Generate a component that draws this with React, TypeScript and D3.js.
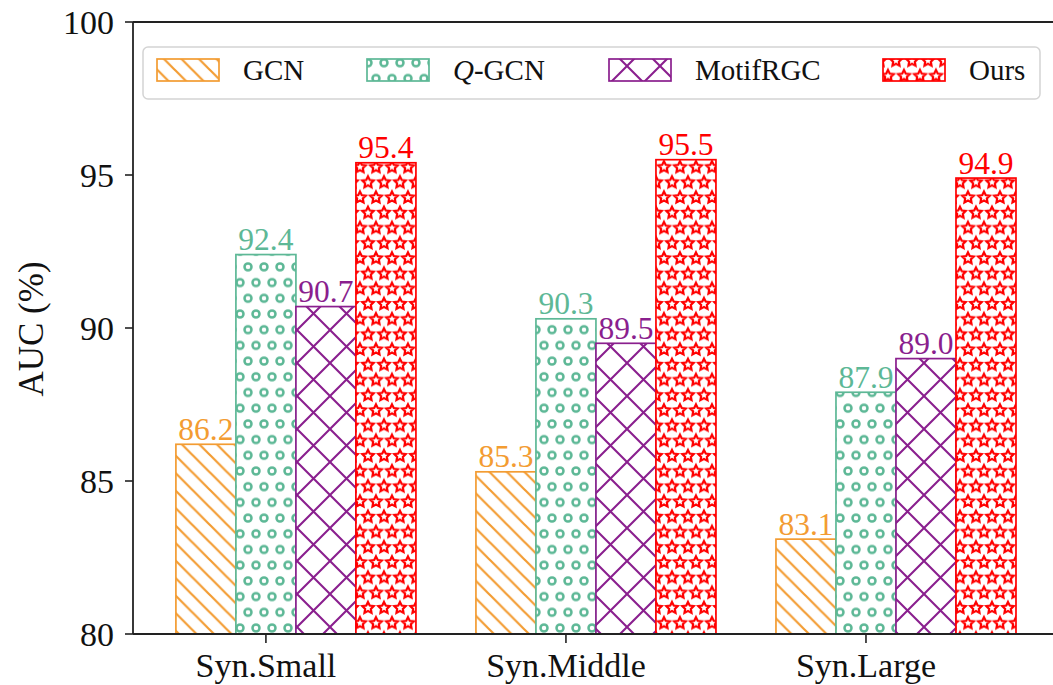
import React from "react";
import * as d3 from "d3";

const categories = ["Syn.Small", "Syn.Middle", "Syn.Large"];
const seriesNames = ["GCN", "Q-GCN", "MotifRGC", "Ours"];
const gcnValues = [86.2, 85.3, 83.1];
const qgcnValues = [92.4, 90.3, 87.9];
const motifValues = [90.7, 89.5, 89.0];
const oursValues = [95.4, 95.5, 94.9];
const yTicks = [80, 85, 90, 95, 100];

const seriesValues = [gcnValues, qgcnValues, motifValues, oursValues];
const colors = ["#F39C32", "#5DB896", "#8A1F8E", "#FF0000"];
const patternIds = ["hatchDiag", "hatchCircle", "hatchCross", "hatchStar"];

const W = 1053;
const H = 685;
const FONT = "'Liberation Serif', 'Times New Roman', serif";

// layout
const plotLeft = 133;
const plotTop = 22;
const plotBottom = 634;
const barWidth = 0.2;
const offsets = [-1, 0, 1, 2];
const legendX = [157, 367, 609, 883];

function starPath(cx: number, cy: number, r: number): string {
  const pts: string[] = [];
  for (let i = 0; i < 10; i++) {
    const rr = i % 2 === 0 ? r : r * 0.5;
    const a = -Math.PI / 2 + (i * Math.PI) / 5;
    pts.push(`${(cx + rr * Math.cos(a)).toFixed(2)},${(cy + rr * Math.sin(a)).toFixed(2)}`);
  }
  return "M" + pts.join("L") + "Z";
}

function Patterns() {
  const s1 = 17.5;
  const s2 = 33;
  const cw = 16;
  const ch = 31.4;
  const sw = 16;
  const sh = 30.4;
  return (
    <defs>
      <pattern id="hatchDiag" patternUnits="userSpaceOnUse" width={s1} height={s1}>
        <rect width={s1} height={s1} fill="white" />
        <path
          d={`M-2,-2L${s1 + 2},${s1 + 2}M-2,${s1 - 2}L2,${s1 + 2}M${s1 - 2},-2L${s1 + 2},2`}
          stroke={colors[0]}
          strokeWidth={2.2}
        />
      </pattern>
      <pattern id="hatchCross" patternUnits="userSpaceOnUse" width={s2} height={s2}>
        <rect width={s2} height={s2} fill="white" />
        <path
          d={`M-2,-2L${s2 + 2},${s2 + 2}M-2,${s2 - 2}L2,${s2 + 2}M${s2 - 2},-2L${s2 + 2},2` +
            `M-2,${s2 + 2}L${s2 + 2},-2M-2,2L2,-2M${s2 - 2},${s2 + 2}L${s2 + 2},${s2 - 2}`}
          stroke={colors[2]}
          strokeWidth={2.1}
        />
      </pattern>
      <pattern id="hatchCircle" patternUnits="userSpaceOnUse" width={cw} height={ch}>
        <rect width={cw} height={ch} fill="white" />
        {[
          [0, 0],
          [cw, 0],
          [0, ch],
          [cw, ch],
          [cw / 2, ch / 2],
        ].map(([x, y], i) => (
          <circle key={i} cx={x} cy={y} r={3.5} fill="none" stroke={colors[1]} strokeWidth={2.5} />
        ))}
      </pattern>
      <pattern id="hatchStar" patternUnits="userSpaceOnUse" width={sw} height={sh}>
        <rect width={sw} height={sh} fill="white" />
        {[
          [0, 0],
          [sw, 0],
          [0, sh],
          [sw, sh],
          [sw / 2, sh / 2],
        ].map(([x, y], i) => (
          <path key={i} d={starPath(x, y, 6)} fill="none" stroke={colors[3]} strokeWidth={2.2} strokeLinejoin="miter" />
        ))}
      </pattern>
    </defs>
  );
}

export default function App() {
  const x = d3.scaleLinear().domain([-0.443, 2.85]).range([plotLeft, 1121]);
  const y = d3.scaleLinear().domain([80, 100]).range([plotBottom, plotTop]);
  const bw = x(barWidth) - x(0);

  return (
    <svg
      width={W}
      height={H}
      viewBox={`0 0 ${W} ${H}`}
      style={{ position: "absolute", left: 0, top: 0, background: "white" }}
      fontFamily={FONT}
    >
      <Patterns />
      <rect width={W} height={H} fill="white" />

      {/* bars */}
      {seriesValues.map((vals, si) =>
        vals.map((v, ci) => {
          const cx = x(ci + offsets[si] * barWidth);
          return (
            <g key={`${si}-${ci}`}>
              <rect
                x={cx - bw / 2}
                y={y(v)}
                width={bw}
                height={y(80) - y(v)}
                fill={`url(#${patternIds[si]})`}
                stroke={colors[si]}
                strokeWidth={1.7}
              />
              <text
                x={cx}
                y={y(v) - 4.5}
                textAnchor="middle"
                fontSize={31.5}
                fill={colors[si]}
              >
                {v.toFixed(1)}
              </text>
            </g>
          );
        })
      )}

      {/* spines */}
      <line x1={plotLeft} x2={W} y1={plotTop} y2={plotTop} stroke="#222" strokeWidth={1.8} />
      <line x1={plotLeft} x2={W} y1={plotBottom} y2={plotBottom} stroke="#222" strokeWidth={1.8} />
      <line x1={plotLeft} x2={plotLeft} y1={plotTop} y2={plotBottom} stroke="#222" strokeWidth={1.8} />

      {/* y ticks */}
      {yTicks.map((t) => (
        <g key={t}>
          <line x1={plotLeft - 8} x2={plotLeft} y1={y(t)} y2={y(t)} stroke="#222" strokeWidth={1.6} />
          <text x={114} y={y(t)} dy="0.34em" textAnchor="end" fontSize={34} fill="#111">
            {t}
          </text>
        </g>
      ))}

      {/* x ticks */}
      {categories.map((c, i) => (
        <g key={c}>
          <line x1={x(i)} x2={x(i)} y1={plotBottom} y2={plotBottom + 9} stroke="#222" strokeWidth={1.6} />
          <text x={x(i)} y={677} textAnchor="middle" fontSize={34} fill="#111">
            {c}
          </text>
        </g>
      ))}

      {/* y label */}
      <text transform={`translate(43, 329) rotate(-90)`} textAnchor="middle" fontSize={35} fill="#111">
        AUC (%)
      </text>

      {/* legend */}
      <rect x={143} y={47} width={897} height={52} rx={5} fill="white" fillOpacity={0.9} stroke="#d4d4d4" strokeWidth={1.5} />
      {seriesNames.map((n, i) => (
        <g key={n}>
          <rect
            x={legendX[i]}
            y={59}
            width={62}
            height={22}
            fill={`url(#${patternIds[i]})`}
            stroke={colors[i]}
            strokeWidth={1.7}
          />
          <text x={legendX[i] + 86} y={80} fontSize={29} fill="#111">
            {n === "Q-GCN" ? (
              <>
                <tspan fontStyle="italic">Q</tspan>
                <tspan>-GCN</tspan>
              </>
            ) : (
              n
            )}
          </text>
        </g>
      ))}
    </svg>
  );
}
